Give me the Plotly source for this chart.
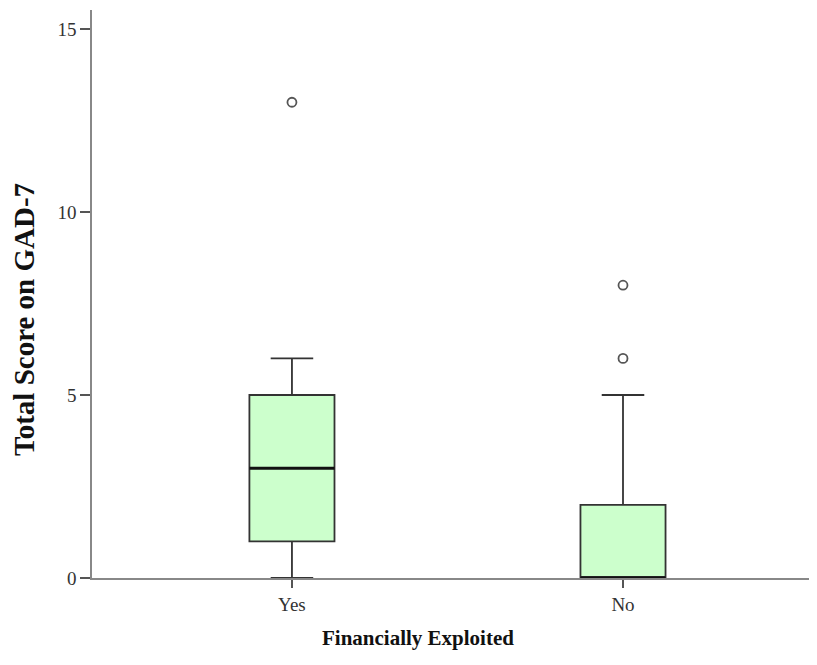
import plotly.graph_objects as go

categories = ["Yes", "No"]
q1 = [1, 0]
median = [3, 0]
q3 = [5, 2]
lower_whisker = [0, 0]
upper_whisker = [6, 5]
outliers = [[13], [6, 8]]

x_pos = list(range(len(categories)))
box_w = 0.257

fig = go.Figure()
for i, c in enumerate(categories):
    fig.add_trace(go.Box(
        x=[x_pos[i]], q1=[q1[i]], median=[median[i]], q3=[q3[i]],
        lowerfence=[lower_whisker[i]], upperfence=[upper_whisker[i]],
        width=box_w, whiskerwidth=0.5,
        fillcolor="#ccffcc", line=dict(color="#333333", width=1.8),
        boxpoints=False, showlegend=False, hoverinfo="skip",
    ))
    # thicker median line
    fig.add_trace(go.Scatter(
        x=[x_pos[i] - box_w / 2, x_pos[i] + box_w / 2], y=[median[i], median[i]],
        mode="lines", line=dict(color="#111111", width=3), showlegend=False, hoverinfo="skip",
    ))
    fig.add_trace(go.Scatter(
        x=[x_pos[i]] * len(outliers[i]), y=outliers[i], mode="markers",
        marker=dict(symbol="circle-open", size=9, color="#555555", line=dict(width=1.8)),
        showlegend=False, hoverinfo="skip",
    ))

# page body has an 8px margin; compensate so the plot sits where the reference does
W, H = 809, 657
L, R, T, B = 84, 0, 2, 87
fig.update_layout(
    width=W, height=H,
    margin=dict(l=L, r=R, t=T, b=B),
    paper_bgcolor="white", plot_bgcolor="white",
    font=dict(family="Liberation Serif", color="#333333"),
    xaxis=dict(
        range=[-0.604, 1.586], tickvals=x_pos, ticktext=categories,
        showgrid=False, zeroline=False, showline=True, linecolor="#888888", linewidth=1.5,
        ticks="outside", ticklen=8, tickcolor="#555555", tickwidth=1.5,
        tickfont=dict(size=19, family="Liberation Serif", color="#333333"),
    ),
    yaxis=dict(
        range=[0, 15.52], tickvals=[0, 5, 10, 15],
        showgrid=False, zeroline=False, showline=True, linecolor="#888888", linewidth=1.5,
        ticks="outside", ticklen=10, tickcolor="#555555", tickwidth=1.5,
        tickfont=dict(size=19, family="Liberation Serif", color="#333333"),
    ),
)

def px_to_paper(X, Y):
    return (X - 8 - L) / (W - L - R), (H - B + 8 - Y) / (H - T - B)

ax, ay = px_to_paper(24, 320)
bx, by = px_to_paper(418, 638)
fig.add_annotation(text="<b>Total Score on GAD-7</b>", x=ax, y=ay, xref="paper", yref="paper",
                   xanchor="center", yanchor="middle", showarrow=False, textangle=-90,
                   font=dict(size=29, family="Liberation Serif", color="#111111"))
fig.add_annotation(text="<b>Financially Exploited</b>", x=bx, y=by, xref="paper", yref="paper",
                   xanchor="center", yanchor="middle", showarrow=False,
                   font=dict(size=21, family="Liberation Serif", color="#111111"))

fig.write_html("out.html")
